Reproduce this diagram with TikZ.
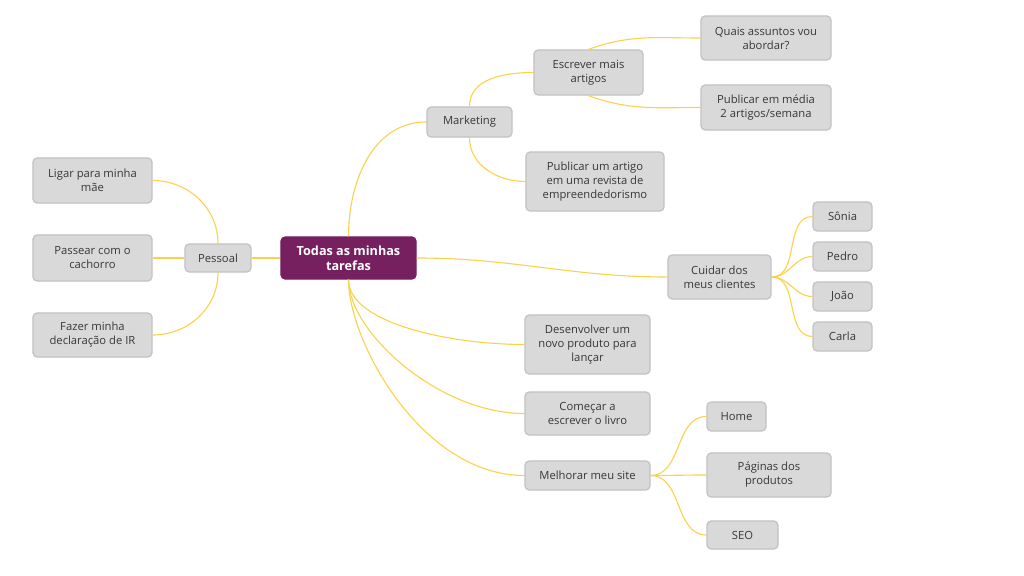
\documentclass[tikz,border=0pt]{standalone}
\usepackage{fontspec}
\setmainfont{Open Sans}
\usepackage{tikz}
\definecolor{boxfill}{HTML}{D9D9D9}
\definecolor{boxline}{HTML}{C2C2C2}
\definecolor{boxtext}{HTML}{383838}
\definecolor{rootfill}{HTML}{76205F}
\definecolor{branch}{HTML}{F9D34C}
\tikzset{
  topic/.style={draw=boxline, fill=boxfill, rounded corners=3pt, line width=0.9pt, text=boxtext, align=center, inner sep=0pt, font=\fontsize{8}{10}\selectfont},
  roottopic/.style={topic, fill=rootfill, draw=rootfill, text=white, font=\bfseries\fontsize{9}{10.8}\selectfont},
}

\begin{document}
\begin{tikzpicture}[x=0.025cm,y=-0.025cm]
\useasboundingbox (0,0) rectangle (1024,576);

\begin{scope}
	\node[roottopic, minimum width=3.375cm, minimum height=1.05cm] (T) at (348.5,258) {Todas as minhas\\tarefas};
	
	\node[topic, minimum width=1.65cm, minimum height=0.7cm] (P) at (218,258) {Pessoal};
	\node[topic, minimum width=2.975cm, minimum height=1.125cm] (PL) at (92.5,180.5) {Ligar para minha\\mãe};
	\node[topic, minimum width=2.975cm, minimum height=1.15cm] (PP) at (92.5,258) {Passear com o\\cachorro};
	\node[topic, minimum width=2.975cm, minimum height=1.1cm] (PF) at (92.5,335) {Fazer minha\\declaração de IR};
	
	\node[topic, minimum width=2.125cm, minimum height=0.75cm] (M) at (469.5,122) {Marketing};
	\node[topic, minimum width=2.725cm, minimum height=1.125cm] (ME) at (588.5,72.5) {Escrever mais\\artigos};
	\node[topic, minimum width=3.25cm, minimum height=1.1cm] (MEQ) at (766,38) {Quais assuntos vou\\abordar?};
	\node[topic, minimum width=3.25cm, minimum height=1.125cm] (MEP) at (766,107.5) {Publicar em média\\2 artigos/semana};
	\node[topic, minimum width=3.45cm, minimum height=1.475cm] (MR) at (595,181.5) {Publicar um artigo\\em uma revista de\\empreendedorismo};
	
	\node[topic, minimum width=2.575cm, minimum height=1.1cm] (C) at (719.5,277) {Cuidar dos\\meus clientes};
	\node[topic, minimum width=1.475cm, minimum height=0.725cm] (CS) at (842.5,216.5) {Sônia};
	\node[topic, minimum width=1.475cm, minimum height=0.725cm] (CP) at (842.5,256.5) {Pedro};
	\node[topic, minimum width=1.475cm, minimum height=0.725cm] (CJ) at (842.5,296.5) {João};
	\node[topic, minimum width=1.475cm, minimum height=0.725cm] (CC) at (842.5,336.5) {Carla};
	
	\node[topic, minimum width=3.125cm, minimum height=1.475cm] (D) at (587.5,344.5) {Desenvolver um\\novo produto para\\lançar};
	\node[topic, minimum width=3.125cm, minimum height=1.075cm] (L) at (587.5,413.5) {Começar a\\escrever o livro};
	\node[topic, minimum width=3.125cm, minimum height=0.725cm] (S) at (587.5,475.5) {Melhorar meu site};
	\node[topic, minimum width=1.475cm, minimum height=0.725cm] (SH) at (736.5,416.5) {Home};
	\node[topic, minimum width=3.1cm, minimum height=1.1cm] (SP) at (769,475) {Páginas dos\\produtos};
	\node[topic, minimum width=1.775cm, minimum height=0.7cm] (SS) at (742.5,535) {SEO};
\end{scope}

\begin{scope}[every edge/.style={draw=branch, line width=0.8pt}]

	\path (T.west) edge (P.east);
	\path (P.north) edge[out=90, in=0] (PL.east);
	\path (P.west) edge (PP.east);
	\path (P.south) edge[out=-90, in=0] (PF.east);
	
	\path (T.north) edge[out=90, in=180] (M.west);
	\path (M.north) edge[out=90, in=180] (ME.west);
	\path (M.south) edge[out=-90, in=180] (MR.west);
	\path (ME.north) edge[out=20, in=180] (MEQ.west);
	\path (ME.south) edge[out=-20, in=180] (MEP.west);
	
	\path (T.east) edge[out=0, in=180] (C.west);
	\path (C.east) edge[out=0, in=180] (CS.west);
	\path (C.east) edge[out=0, in=180] (CP.west);
	\path (C.east) edge[out=0, in=180] (CJ.west);
	\path (C.east) edge[out=0, in=180] (CC.west);
	
	\path (T.south) edge[out=-90, in=180, out looseness=0.6] (D.west);
	\path (T.south) edge[out=-90, in=180, out looseness=0.6] (L.west);
	\path (T.south) edge[out=-90, in=180, out looseness=0.6] (S.west);
	\path (S.east) edge[out=0, in=180] (SH.west);
	\path (S.east) edge[out=0, in=180] (SP.west);
	\path (S.east) edge[out=0, in=180] (SS.west);

\end{scope}

\end{tikzpicture}
\end{document}
